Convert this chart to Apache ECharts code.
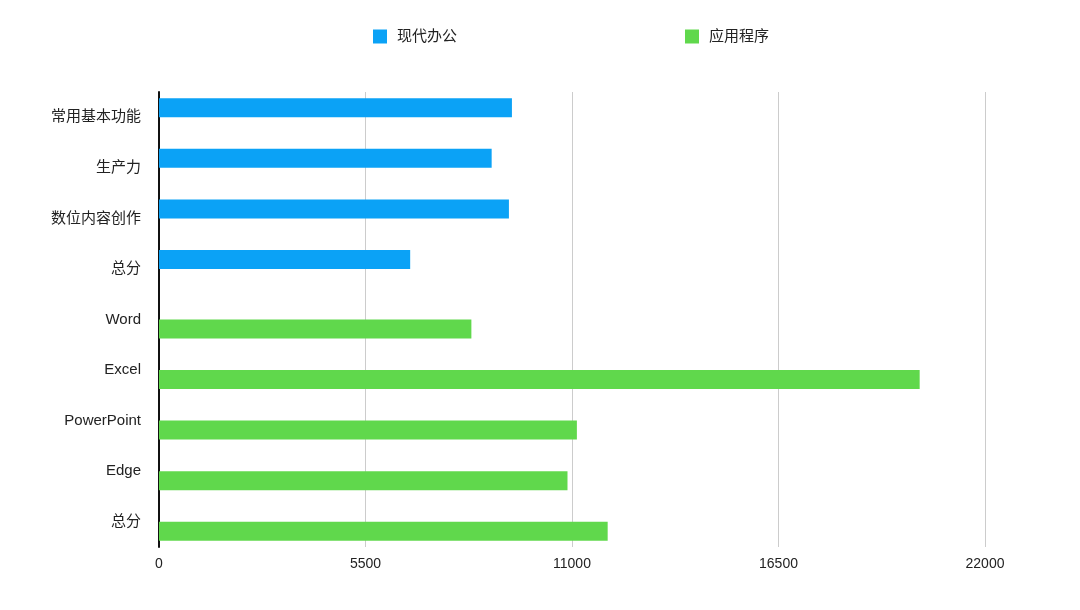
<!DOCTYPE html>
<html>
<head>
<meta charset="utf-8">
<script src="https://cdn.jsdelivr.net/npm/echarts@6/dist/echarts.min.js"></script>
<style>html,body{margin:0;padding:0;background:#fff}#main{width:1080px;height:610px}</style>
</head>
<body>
<div id="main"></div>
<script>
const categories = ['常用基本功能', '生产力', '数位内容创作', '总分', 'Word', 'Excel', 'PowerPoint', 'Edge', '总分'];
const seriesNames = ['现代办公', '应用程序'];
const officeValues = [9400, 8860, 9320, 6690, null, null, null, null, null];
const appValues = [null, null, null, null, 8320, 20260, 11130, 10880, 11950];
const xTicks = [0, 5500, 11000, 16500, 22000];

const FONT = "'Liberation Sans', 'Noto Sans CJK SC', sans-serif";
const chart = echarts.init(document.getElementById('main'));
chart.setOption({
  backgroundColor: '#ffffff',
  animation: false,
  legend: {
    top: 24,
    left: 368,
    itemWidth: 14,
    itemHeight: 14,
    itemGap: 228,
    icon: 'rect',
    textStyle: { fontFamily: FONT, fontSize: 15, color: '#222', padding: [0, 0, 0, 5] },
    data: seriesNames
  },
  grid: { left: 159, right: 95, top: 92, bottom: 63, containLabel: false },
  xAxis: {
    type: 'value',
    min: xTicks[0],
    max: xTicks[xTicks.length - 1],
    interval: xTicks[1] - xTicks[0],
    axisLine: { show: false },
    axisTick: { show: false },
    splitLine: { show: true, lineStyle: { color: '#cccccc', width: 1 } },
    axisLabel: { fontFamily: FONT, fontSize: 14, color: '#222', margin: 10, formatter: v => String(v) }
  },
  yAxis: {
    type: 'category',
    inverse: true,
    data: categories,
    axisLine: { show: true, lineStyle: { color: '#111', width: 2 } },
    axisTick: { show: false },
    axisLabel: { fontFamily: FONT, fontSize: 15, color: '#222', margin: 18 }
  },
  series: [
    {
      name: seriesNames[0], type: 'bar', data: officeValues,
      barWidth: 19, barGap: '0%',
      itemStyle: { color: '#0ba2f6' }
    },
    {
      name: seriesNames[1], type: 'bar', data: appValues,
      barWidth: 19, barGap: '0%',
      itemStyle: { color: '#60d84c' }
    }
  ]
});
</script>
</body>
</html>
